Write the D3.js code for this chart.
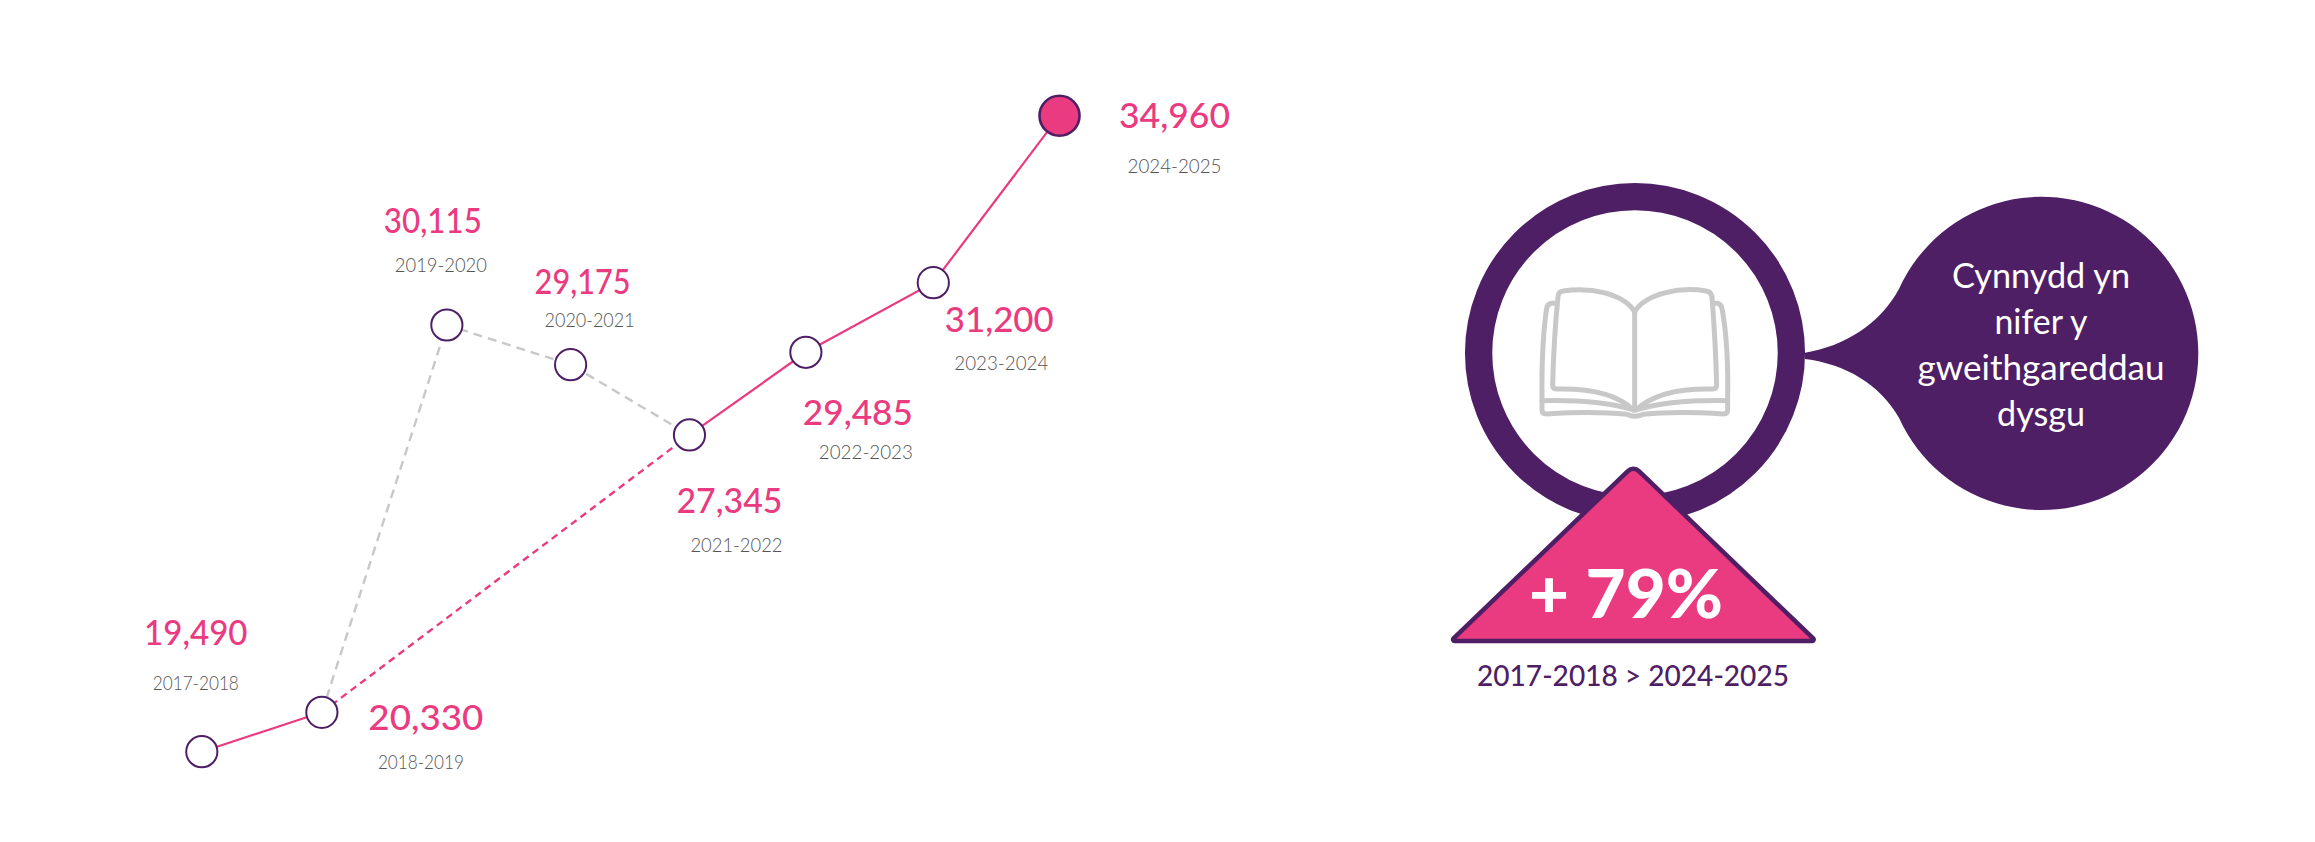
<!DOCTYPE html>
<html>
<head>
<meta charset="utf-8">
<script src="https://d3js.org/d3.v7.min.js"></script>
<style>
    html, body { margin: 0; padding: 0; background: #fff; }
    svg { display: block; }
    text { font-family: Lato, "Open Sans", sans-serif; }
</style>
</head>
<body>
<div id="chart"></div>
<script>
// Data
const periods = ["2017-2018", "2018-2019", "2019-2020", "2020-2021", "2021-2022", "2022-2023", "2023-2024", "2024-2025"];
const valueLabels = ["19,490", "20,330", "30,115", "29,175", "27,345", "29,485", "31,200", "34,960"];
// The marks do not sit exactly at their labelled value or on an even step, so these are read off the marks
const plottedValues = [19490, 20448, 29869, 28904, 27194, 29205, 30898, 34960];
const plottedYears = [2017, 2017.98, 2019, 2020.01, 2020.98, 2021.93, 2022.97, 2024];

// Which points each line joins
const greyDashed = [1, 2, 3, 4];
const pinkDashed = [1, 4];
const pinkSolid = [[0, 1], [4, 5, 6, 7]];

const bubbleLines = ["Cynnydd yn", "nifer y", "gweithgareddau", "dysgu"];
const changeLabel = "+ 79%";
const changeRange = "2017-2018 > 2024-2025";

const pink = "#ea3a80";
const purple = "#4f1f66";
const lightGrey = "#c8c8c8";

const width = 2315;
const height = 842;

const svg = d3.select("#chart").append("svg")
    .attr("width", width)
    .attr("height", height);

const xScale = d3.scaleLinear().domain([2017, 2024]).range([201.8, 1059.5]);
const yScale = d3.scaleLinear().domain([19490, 34960]).range([751.7, 115.7]);

const line = d3.line()
    .x(i => xScale(plottedYears[i]))
    .y(i => yScale(plottedValues[i]));

// Lines
svg.append("path")
    .attr("d", line(greyDashed))
    .attr("fill", "none")
    .attr("stroke", lightGrey)
    .attr("stroke-width", 2.4)
    .attr("stroke-dasharray", "9 6");

svg.append("path")
    .attr("d", line(pinkDashed))
    .attr("fill", "none")
    .attr("stroke", pink)
    .attr("stroke-width", 2.4)
    .attr("stroke-dasharray", "7 5");

pinkSolid.forEach(run => {
    svg.append("path")
        .attr("d", line(run))
        .attr("fill", "none")
        .attr("stroke", pink)
        .attr("stroke-width", 2.2);
});

// Points, the last one is bigger and filled
svg.selectAll("circle.point")
    .data(periods)
    .enter()
    .append("circle")
    .attr("class", "point")
    .attr("cx", (d, i) => xScale(plottedYears[i]))
    .attr("cy", (d, i) => yScale(plottedValues[i]))
    .attr("r", (d, i) => i === periods.length - 1 ? 20 : 15.6)
    .attr("fill", (d, i) => i === periods.length - 1 ? pink : "#fff")
    .attr("stroke", purple)
    .attr("stroke-width", (d, i) => i === periods.length - 1 ? 2.6 : 2);

// Label placement relative to each point: [value dx, value dy, period dx, period dy]
const labelOffsets = [
    [-6, -107, -6, -62],
    [104, 18, 99, 57],
    [-14, -92, -6, -53],
    [12, -71, 19, -38],
    [40, 78, 47, 117],
    [52, 73, 60, 107],
    [66, 49, 68, 87],
    [115, 12, 115, 57]
];
// Label widths measured on the picture, the font is fitted to them
const valueWidths = [103.5, 115, 98, 96, 106, 110, 109, 111];
const periodWidths = [86, 86, 92, 90, 92, 94, 94, 94];
const bubbleWidths = [178, 93, 247, 88];

svg.selectAll("text.value")
    .data(valueLabels)
    .enter()
    .append("text")
    .attr("class", "value")
    .attr("x", (d, i) => xScale(plottedYears[i]) + labelOffsets[i][0])
    .attr("y", (d, i) => yScale(plottedValues[i]) + labelOffsets[i][1])
    .attr("text-anchor", "middle")
    .attr("font-size", 35)
    .attr("font-weight", 500)
    .attr("textLength", (d, i) => valueWidths[i])
    .attr("lengthAdjust", "spacingAndGlyphs")
    .attr("fill", pink)
    .text(d => d);

svg.selectAll("text.period")
    .data(periods)
    .enter()
    .append("text")
    .attr("class", "period")
    .attr("x", (d, i) => xScale(plottedYears[i]) + labelOffsets[i][2])
    .attr("y", (d, i) => yScale(plottedValues[i]) + labelOffsets[i][3])
    .attr("text-anchor", "middle")
    .attr("font-size", 19)
    .attr("font-weight", 300)
    .attr("textLength", (d, i) => periodWidths[i])
    .attr("lengthAdjust", "spacingAndGlyphs")
    .attr("fill", "#555")
    .text(d => d);

// Speech bubble behind the ring
const bubbleX = 2041.7;
const bubbleY = 353.4;
const bubbleR = 156.6;
const neckAngle = 24.4 * Math.PI / 180;
const neckX = bubbleX - bubbleR * Math.cos(neckAngle);
const neckDy = bubbleR * Math.sin(neckAngle);

const bubble = d3.path();
bubble.moveTo(1805, 352.7);
bubble.bezierCurveTo(1845, 346, 1880, 324, neckX, bubbleY - neckDy);
bubble.arc(bubbleX, bubbleY, bubbleR, Math.PI + neckAngle, Math.PI - neckAngle);
bubble.bezierCurveTo(1880, 384, 1845, 364, 1805, 359);
bubble.closePath();
svg.append("path").attr("d", bubble.toString()).attr("fill", purple);

svg.selectAll("text.bubble")
    .data(bubbleLines)
    .enter()
    .append("text")
    .attr("class", "bubble")
    .attr("x", 2041)
    .attr("y", (d, i) => 288.3 + i * 46)
    .attr("text-anchor", "middle")
    .attr("font-size", 34)
    .attr("textLength", (d, i) => bubbleWidths[i])
    .attr("lengthAdjust", "spacingAndGlyphs")
    .attr("fill", "#fff")
    .text(d => d);

// Ring
svg.append("circle")
    .attr("cx", 1635)
    .attr("cy", 353)
    .attr("r", 156.4)
    .attr("fill", "#fff")
    .attr("stroke", purple)
    .attr("stroke-width", 27.3);

// Book icon, drawn in the units of a 3x crop
const book = svg.append("g")
    .attr("transform", "translate(1430,180) scale(0.3333)")
    .attr("fill", "none")
    .attr("stroke", lightGrey)
    .attr("stroke-width", 15)
    .attr("stroke-linecap", "round")
    .attr("stroke-linejoin", "round");

[
    "M614,400 L614,690",
    "M614,395 C580,340 480,320 400,333 Q385,335 384,350 C375,440 370,530 368,615 Q368,627 380,627 C470,625 560,640 610,690",
    "M614,395 C648,340 750,320 828,333 Q843,335 846,350 C853,440 858,530 860,615 Q860,627 848,627 C760,625 670,640 618,690",
    "M378,370 L365,370 Q352,372 350,385 C340,450 335,560 336,660 L336,690 Q336,702 350,702 C430,697 530,697 590,703 Q615,715 640,703 C700,697 800,697 880,702 Q893,702 893,690 L893,660 C895,560 888,450 876,385 Q873,372 862,370 L850,370",
    "M336,662 C430,660 530,665 605,688",
    "M893,662 C800,660 700,665 625,688"
].forEach(d => book.append("path").attr("d", d));

// Triangle with rounded corners
const triangle = d3.path();
triangle.moveTo(1633.4, 641);
triangle.arcTo(1450.9, 641, 1633.4, 465.7, 1.5);
triangle.arcTo(1633.4, 465.7, 1815.9, 641, 8);
triangle.arcTo(1815.9, 641, 1633.4, 641, 1.5);
triangle.closePath();
svg.append("path")
    .attr("d", triangle.toString())
    .attr("fill", pink)
    .attr("stroke", purple)
    .attr("stroke-width", 4.5)
    .attr("stroke-linejoin", "round");

svg.append("text")
    .attr("x", 1626)
    .attr("y", 617.5)
    .attr("text-anchor", "middle")
    .attr("font-size", 67)
    .attr("font-weight", 900)
    .attr("textLength", 194)
    .attr("lengthAdjust", "spacingAndGlyphs")
    .attr("fill", "#fff")
    .text(changeLabel);

svg.append("text")
    .attr("x", 1633)
    .attr("y", 685.7)
    .attr("text-anchor", "middle")
    .attr("font-size", 29)
    .attr("font-weight", 500)
    .attr("textLength", 312)
    .attr("lengthAdjust", "spacingAndGlyphs")
    .attr("fill", purple)
    .text(changeRange);
</script>
</body>
</html>
